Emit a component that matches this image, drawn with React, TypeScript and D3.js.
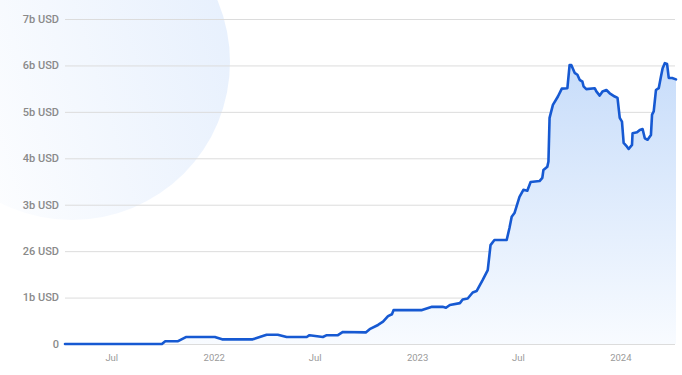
import React, { useEffect, useRef } from 'react';
import * as d3 from 'd3';

// dates and values (billions USD)
const dates: string[] = [
  '2021-04-08', '2021-09-29', '2021-10-05', '2021-10-28', '2021-11-11', '2022-01-02', '2022-01-15', '2022-03-11',
  '2022-04-05', '2022-04-25', '2022-05-11', '2022-06-16', '2022-06-21', '2022-07-15', '2022-07-22', '2022-08-11',
  '2022-08-20', '2022-09-30', '2022-10-07', '2022-10-22', '2022-10-31', '2022-11-09', '2022-11-16', '2022-11-19',
  '2023-01-09', '2023-01-27', '2023-02-15', '2023-02-21', '2023-02-28', '2023-03-18', '2023-03-23', '2023-04-01',
  '2023-04-10', '2023-04-17', '2023-04-28', '2023-05-07', '2023-05-12', '2023-05-19', '2023-06-10', '2023-06-15',
  '2023-06-19', '2023-06-24', '2023-07-03', '2023-07-10', '2023-07-17', '2023-07-23', '2023-08-08', '2023-08-13',
  '2023-08-15', '2023-08-22', '2023-08-24', '2023-08-26', '2023-09-01', '2023-09-10', '2023-09-17', '2023-09-27',
  '2023-10-01', '2023-10-04', '2023-10-10', '2023-10-15', '2023-10-19', '2023-10-24', '2023-10-26', '2023-10-31',
  '2023-11-15', '2023-11-18', '2023-11-24', '2023-11-29', '2023-12-06', '2023-12-12', '2023-12-21', '2023-12-26',
  '2023-12-30', '2024-01-03', '2024-01-06', '2024-01-12', '2024-01-15', '2024-01-21', '2024-01-22', '2024-01-30',
  '2024-02-04', '2024-02-09', '2024-02-13', '2024-02-18', '2024-02-24', '2024-02-26', '2024-02-29', '2024-03-04',
  '2024-03-09', '2024-03-13', '2024-03-16', '2024-03-20', '2024-03-24', '2024-03-27', '2024-04-02', '2024-04-09',
];

const values: number[] = [
  0, 0, 0.06, 0.06, 0.15, 0.15, 0.10, 0.10,
  0.20, 0.20, 0.15, 0.15, 0.19, 0.15, 0.19, 0.19,
  0.26, 0.25, 0.32, 0.41, 0.48, 0.60, 0.64, 0.73,
  0.73, 0.80, 0.80, 0.78, 0.84, 0.88, 0.96, 0.98,
  1.11, 1.14, 1.38, 1.59, 2.13, 2.24, 2.24, 2.50,
  2.74, 2.82, 3.17, 3.32, 3.30, 3.49, 3.51, 3.58,
  3.75, 3.82, 3.93, 4.87, 5.15, 5.33, 5.50, 5.51,
  6.01, 6.01, 5.84, 5.80, 5.69, 5.65, 5.55, 5.49,
  5.51, 5.44, 5.35, 5.44, 5.47, 5.40, 5.33, 5.30,
  4.87, 4.79, 4.33, 4.25, 4.20, 4.29, 4.54, 4.56,
  4.61, 4.63, 4.43, 4.40, 4.50, 4.94, 5.01, 5.47,
  5.51, 5.76, 5.94, 6.05, 6.03, 5.73, 5.73, 5.70,
];

const yTicks: number[] = [0, 1, 2, 3, 4, 5, 6, 7];
const yTickLabels: string[] = ['0', '1b USD', '26 USD', '3b USD', '4b USD', '5b USD', '6b USD', '7b USD'];

export default function App() {
  const svgRef = useRef<SVGSVGElement>(null);

  useEffect(() => {
    if (!svgRef.current) return;
    const svg = d3.select(svgRef.current);
    svg.selectAll('*').remove();

    const width = 682;
    const height = 375;
    const left = 65;
    const right = 676;
    const top = 19;
    const bottom = 344;

    const parse = d3.timeParse('%Y-%m-%d');
    const data = dates.map((d, i) => ({ date: parse(d)!, value: values[i] }));

    const x = d3.scaleTime()
      .domain(d3.extent(data, d => d.date) as [Date, Date])
      .range([left, right]);
    const y = d3.scaleLinear().domain([0, 7]).range([bottom, top]);

    const defs = svg.append('defs');
    const circleGrad = defs.append('linearGradient')
      .attr('id', 'circleGrad')
      .attr('x1', 0).attr('y1', 0.6).attr('x2', 1).attr('y2', 0.3);
    circleGrad.append('stop').attr('offset', '0%').attr('stop-color', '#ffffff');
    circleGrad.append('stop').attr('offset', '100%').attr('stop-color', '#e7f0fd');

    const areaGrad = defs.append('linearGradient')
      .attr('id', 'areaGrad')
      .attr('gradientUnits', 'userSpaceOnUse')
      .attr('x1', 0).attr('y1', y(6)).attr('x2', 0).attr('y2', bottom);
    areaGrad.append('stop').attr('offset', '0%').attr('stop-color', '#c8ddfa');
    areaGrad.append('stop').attr('offset', '100%').attr('stop-color', '#f8fbff');

    svg.attr('width', width).attr('height', height);
    svg.append('rect').attr('width', width).attr('height', height).attr('fill', '#ffffff');

    // decorative background circle
    svg.append('circle')
      .attr('cx', 72).attr('cy', 62).attr('r', 158)
      .attr('fill', 'url(#circleGrad)');

    // grid + y labels
    const grid = svg.append('g');
    grid.selectAll('line')
      .data(yTicks)
      .join('line')
      .attr('x1', left).attr('x2', 675)
      .attr('y1', d => y(d) + 0.5).attr('y2', d => y(d) + 0.5)
      .attr('stroke', '#dcdcdc')
      .attr('stroke-width', 1);
    grid.selectAll('text')
      .data(yTicks)
      .join('text')
      .attr('x', 59)
      .attr('y', d => y(d))
      .attr('dy', '0.35em')
      .attr('text-anchor', 'end')
      .attr('fill', '#8a8a8a')
      .style('font-family', 'Roboto, sans-serif')
      .style('font-weight', 500)
      .style('font-size', '11px')
      .text((d, i) => yTickLabels[i]);

    // area + line
    const area = d3.area<{ date: Date; value: number }>()
      .x(d => x(d.date))
      .y0(bottom)
      .y1(d => y(d.value));
    svg.append('path')
      .datum(data)
      .attr('d', area)
      .attr('fill', 'url(#areaGrad)');

    const line = d3.line<{ date: Date; value: number }>()
      .x(d => x(d.date))
      .y(d => y(d.value));
    svg.append('path')
      .datum(data)
      .attr('d', line)
      .attr('fill', 'none')
      .attr('stroke', '#1659d2')
      .attr('stroke-width', 2.6)
      .attr('stroke-linejoin', 'round')
      .attr('stroke-linecap', 'round');

    // x axis labels
    const xTicks = x.ticks(d3.timeMonth.every(6)!);
    const fmt = (d: Date) => (d.getMonth() === 0 ? d3.timeFormat('%Y')(d) : d3.timeFormat('%b')(d));
    svg.append('g')
      .selectAll('text')
      .data(xTicks)
      .join('text')
      .attr('x', d => x(d))
      .attr('y', 361)
      .attr('text-anchor', 'middle')
      .attr('fill', '#9a9a9a')
      .style('font-family', 'Roboto, sans-serif')
      .style('font-size', '9.5px')
      .text(d => fmt(d));
  }, []);

  return <svg ref={svgRef} style={{ position: 'absolute', left: 0, top: 0, display: 'block' }}></svg>;
}
